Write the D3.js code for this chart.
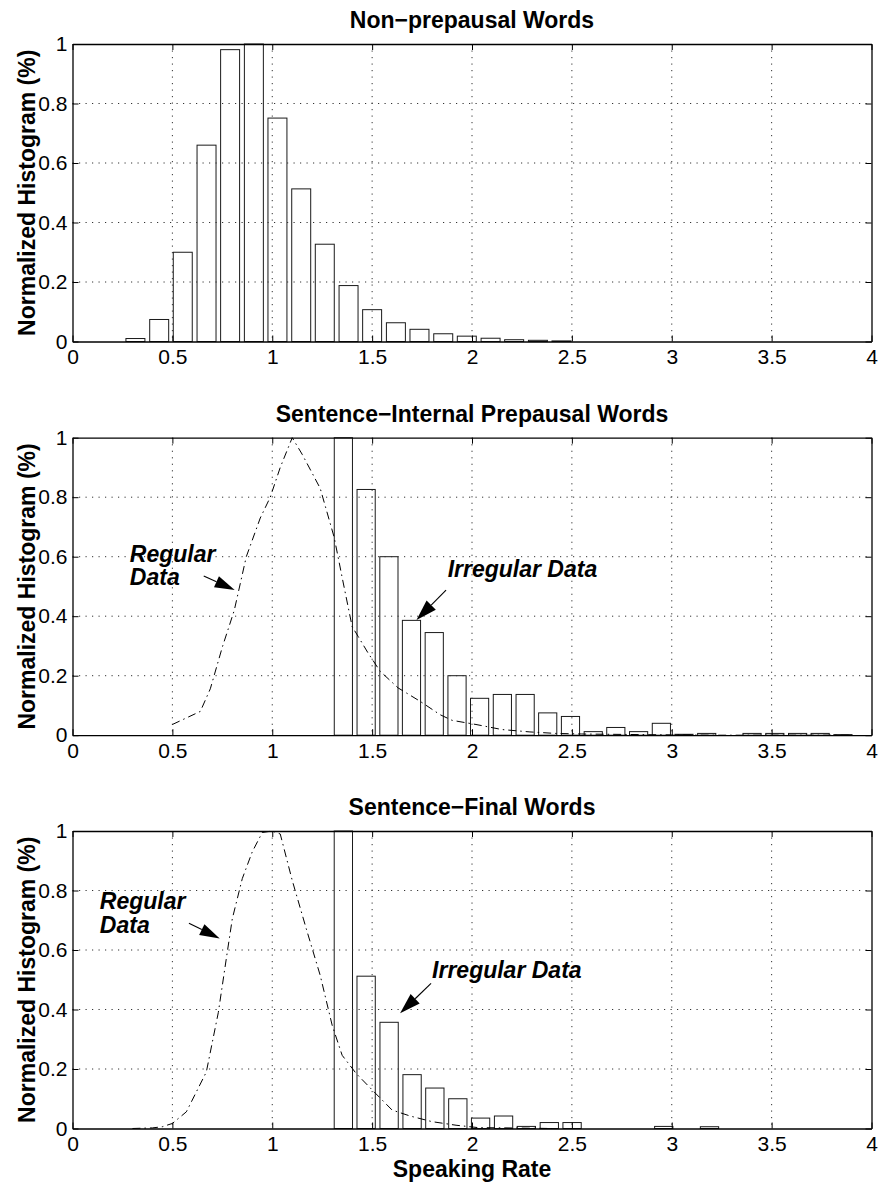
<!DOCTYPE html>
<html>
<head>
<meta charset="utf-8">
<script src="https://cdn.jsdelivr.net/npm/d3@7"></script>
<style>
  html, body { margin: 0; padding: 0; background: #fff; }
  svg { display: block; }
  text { font-family: "Liberation Sans", Arial, Helvetica, sans-serif; fill: #000; }
</style>
</head>
<body>
<script>
// ---------------- DATA ----------------
const titles = ["Non\u2212prepausal Words", "Sentence\u2212Internal Prepausal Words", "Sentence\u2212Final Words"];
const yLabel = "Normalized Histogram (%)";
const xLabel = "Speaking Rate";

const xTicks = [0, 0.5, 1, 1.5, 2, 2.5, 3, 3.5, 4];
const xTickLabels = ["0", "0.5", "1", "1.5", "2", "2.5", "3", "3.5", "4"];
const yTicks = [0, 0.2, 0.4, 0.6, 0.8, 1];
const yTickLabels = ["0", "0.2", "0.4", "0.6", "0.8", "1"];

// Panel 1: Non-prepausal words (histogram bins)
const centers1 = [0.315, 0.434, 0.552, 0.671, 0.789, 0.908, 1.026, 1.145, 1.263, 1.382,
                  1.500, 1.619, 1.737, 1.856, 1.974, 2.093, 2.211, 2.330, 2.448];
const values1  = [0.010, 0.074, 0.300, 0.660, 0.981, 1.000, 0.751, 0.513, 0.327, 0.188,
                  0.107, 0.063, 0.041, 0.026, 0.018, 0.011, 0.006, 0.004, 0.002];

// Panel 2: Sentence-internal prepausal words (irregular data histogram)
const centers2 = [1.356, 1.470, 1.584, 1.697, 1.811, 1.925, 2.038, 2.152, 2.266, 2.379,
                  2.493, 2.607, 2.720, 2.834, 2.948, 3.061, 3.175, 3.402, 3.516, 3.630,
                  3.743, 3.857];
const values2  = [1.000, 0.826, 0.600, 0.386, 0.345, 0.200, 0.124, 0.137, 0.137, 0.075,
                  0.063, 0.012, 0.026, 0.012, 0.040, 0.003, 0.006, 0.006, 0.006, 0.006,
                  0.006, 0.002];
// Panel 2: regular data curve
const regX2 = [0.50, 0.64, 0.69, 0.75, 0.81, 0.87, 0.94, 0.99, 1.04, 1.10, 1.15, 1.24, 1.31,
               1.35, 1.40, 1.43, 1.48, 1.54, 1.63, 1.74, 1.84, 1.90, 2.02, 2.15, 2.29, 2.42,
               2.55, 2.70, 2.85, 3.00, 3.20, 3.50, 3.90];
const regY2 = [0.036, 0.080, 0.156, 0.296, 0.420, 0.600, 0.730, 0.800, 0.900, 1.000, 0.944,
               0.830, 0.665, 0.530, 0.365, 0.332, 0.276, 0.215, 0.159, 0.114, 0.069, 0.050,
               0.036, 0.019, 0.011, 0.006, 0.004, 0.003, 0.002, 0.001, 0, 0, 0];

// Panel 3: Sentence-final words (irregular data histogram)
const centers3 = [1.356, 1.470, 1.585, 1.700, 1.814, 1.929, 2.043, 2.158, 2.272, 2.387,
                  2.501, 2.960, 3.189];
const values3  = [1.000, 0.512, 0.357, 0.181, 0.136, 0.100, 0.035, 0.042, 0.007, 0.020,
                  0.020, 0.007, 0.006];
// Panel 3: regular data curve
const regX3 = [0.30, 0.40, 0.45, 0.50, 0.57, 0.62, 0.67, 0.73, 0.77, 0.80, 0.85, 0.90, 0.95,
               1.00, 1.04, 1.10, 1.17, 1.24, 1.30, 1.35, 1.42, 1.51, 1.60, 1.69, 1.80, 1.92,
               2.03, 2.17, 2.40];
const regY3 = [0, 0.002, 0.006, 0.017, 0.056, 0.123, 0.190, 0.390, 0.571, 0.705, 0.840, 0.930,
               0.995, 1.000, 0.990, 0.834, 0.672, 0.515, 0.347, 0.246, 0.185, 0.123, 0.062,
               0.042, 0.023, 0.011, 0.003, 0.002, 0];

// annotation texts
const regLabel = ["Regular", "Data"];
const irrLabel = "Irregular Data";

// ---------------- LAYOUT ----------------
const W = 878, H = 1184;
const panelTops = [44, 437.7, 831];
const panelH = 297.5;
const binWidths = [0.095, 0.091, 0.0916];

// annotation anchors in data coordinates (layout)
const annot = [
  null,
  { reg: [0.287, 0.583, 0.504], regArrow: [0.657, 0.535, 0.812, 0.488],
    irr: [1.878, 0.532], irrArrow: [1.870, 0.488, 1.722, 0.387] },
  { reg: [0.137, 0.737, 0.656], regArrow: [0.583, 0.690, 0.737, 0.639],
    irr: [1.800, 0.505], irrArrow: [1.795, 0.488, 1.640, 0.387] }
];

const svg = d3.select("body").append("svg").attr("width", W).attr("height", H);
const x = d3.scaleLinear().domain([0, 4]).range([72.5, 871.5]);

const panelData = [
  { c: centers1, v: values1, rx: null, ry: null },
  { c: centers2, v: values2, rx: regX2, ry: regY2 },
  { c: centers3, v: values3, rx: regX3, ry: regY3 }
];

function arrow(g, x1, y1, x2, y2, L, hw) {
  const dx = x2 - x1, dy = y2 - y1, len = Math.hypot(dx, dy);
  const ux = dx / len, uy = dy / len;
  const bx = x2 - ux * L, by = y2 - uy * L;
  const px = -uy, py = ux;
  g.append("line").attr("x1", x1).attr("y1", y1).attr("x2", bx).attr("y2", by)
    .attr("stroke", "#000").attr("stroke-width", 1.1);
  g.append("polygon")
    .attr("points", [[x2, y2], [bx + px * hw, by + py * hw], [bx - px * hw, by - py * hw]].map(p => p.join(",")).join(" "))
    .attr("fill", "#000");
}

panelData.forEach((pd, i) => {
  const top = panelTops[i], bottom = top + panelH;
  const y = d3.scaleLinear().domain([0, 1]).range([bottom, top]);
  const g = svg.append("g");
  const bw = binWidths[i];

  // bars (hollow)
  g.selectAll("rect.bar").data(pd.c.map((c, k) => ({ c, v: pd.v[k] }))).join("rect")
    .attr("class", "bar")
    .attr("x", d => x(d.c - bw / 2))
    .attr("width", d => x(d.c + bw / 2) - x(d.c - bw / 2))
    .attr("y", d => y(d.v))
    .attr("height", d => y(0) - y(d.v))
    .attr("fill", "none")
    .attr("stroke", "#1a1a1a")
    .attr("stroke-width", 1);

  // grid (dotted)
  const grid = g.append("g").attr("stroke", "#333").attr("stroke-width", 1)
    .attr("stroke-dasharray", "1.2,5.3");
  xTicks.slice(1, -1).forEach(t => {
    grid.append("line").attr("x1", x(t)).attr("x2", x(t)).attr("y1", top).attr("y2", bottom);
  });
  yTicks.slice(1, -1).forEach(t => {
    grid.append("line").attr("x1", x(0)).attr("x2", x(4)).attr("y1", y(t)).attr("y2", y(t));
  });

  // regular data curve (dash-dot)
  if (pd.rx) {
    const line = d3.line().x((d, k) => x(pd.rx[k])).y((d, k) => y(pd.ry[k]));
    g.append("path").attr("d", line(pd.rx))
      .attr("fill", "none").attr("stroke", "#000").attr("stroke-width", 1)
      .attr("stroke-dasharray", "8,4,1.5,4");
  }

  // axes
  const fmtX = (d) => xTickLabels[xTicks.indexOf(d)];
  const fmtY = (d) => yTickLabels[yTicks.indexOf(d)];
  const axB = g.append("g").attr("transform", `translate(0,${bottom})`)
    .call(d3.axisBottom(x).tickValues(xTicks).tickFormat(fmtX).tickSizeInner(-6).tickSizeOuter(0).tickPadding(8));
  const axT = g.append("g").attr("transform", `translate(0,${top})`)
    .call(d3.axisTop(x).tickValues(xTicks).tickFormat("").tickSizeInner(-6).tickSizeOuter(0));
  const axL = g.append("g").attr("transform", `translate(${x(0)},0)`)
    .call(d3.axisLeft(y).tickValues(yTicks).tickFormat(fmtY).tickSizeInner(-6).tickSizeOuter(0).tickPadding(5));
  const axR = g.append("g").attr("transform", `translate(${x(4)},0)`)
    .call(d3.axisRight(y).tickValues(yTicks).tickFormat("").tickSizeInner(-6).tickSizeOuter(0));
  [axB, axT, axL, axR].forEach(a => {
    a.selectAll("path.domain").attr("stroke", "#000").attr("stroke-width", 1.3);
    a.selectAll(".tick line").attr("stroke", "#000").attr("stroke-width", 1);
    a.selectAll("text").attr("font-size", 21).attr("font-family", "Liberation Sans, Arial, sans-serif").attr("fill", "#000");
  });

  // title
  g.append("text").attr("x", (x(0) + x(4)) / 2).attr("y", top - 16)
    .attr("text-anchor", "middle").attr("font-size", 23).attr("font-weight", "bold")
    .text(titles[i]);

  // y label
  g.append("text").attr("transform", `translate(35,${(top + bottom) / 2}) rotate(-90)`)
    .attr("text-anchor", "middle").attr("font-size", 23).attr("font-weight", "bold")
    .text(yLabel);

  // annotations
  const a = annot[i];
  if (a) {
    const t = g.append("text").attr("font-size", 23).attr("font-weight", "bold").attr("font-style", "italic");
    t.append("tspan").attr("x", x(a.reg[0])).attr("y", y(a.reg[1])).text(regLabel[0]);
    t.append("tspan").attr("x", x(a.reg[0])).attr("y", y(a.reg[2])).text(regLabel[1]);
    arrow(g, x(a.regArrow[0]), y(a.regArrow[1]), x(a.regArrow[2]), y(a.regArrow[3]), 20, 6);
    g.append("text").attr("x", x(a.irr[0])).attr("y", y(a.irr[1]))
      .attr("font-size", 23).attr("font-weight", "bold").attr("font-style", "italic")
      .text(irrLabel);
    arrow(g, x(a.irrArrow[0]), y(a.irrArrow[1]), x(a.irrArrow[2]), y(a.irrArrow[3]), 21, 6.5);
  }

  if (i === 2) {
    g.append("text").attr("x", (x(0) + x(4)) / 2).attr("y", 1177)
      .attr("text-anchor", "middle").attr("font-size", 23).attr("font-weight", "bold")
      .text(xLabel);
  }
});
</script>
</body>
</html>
